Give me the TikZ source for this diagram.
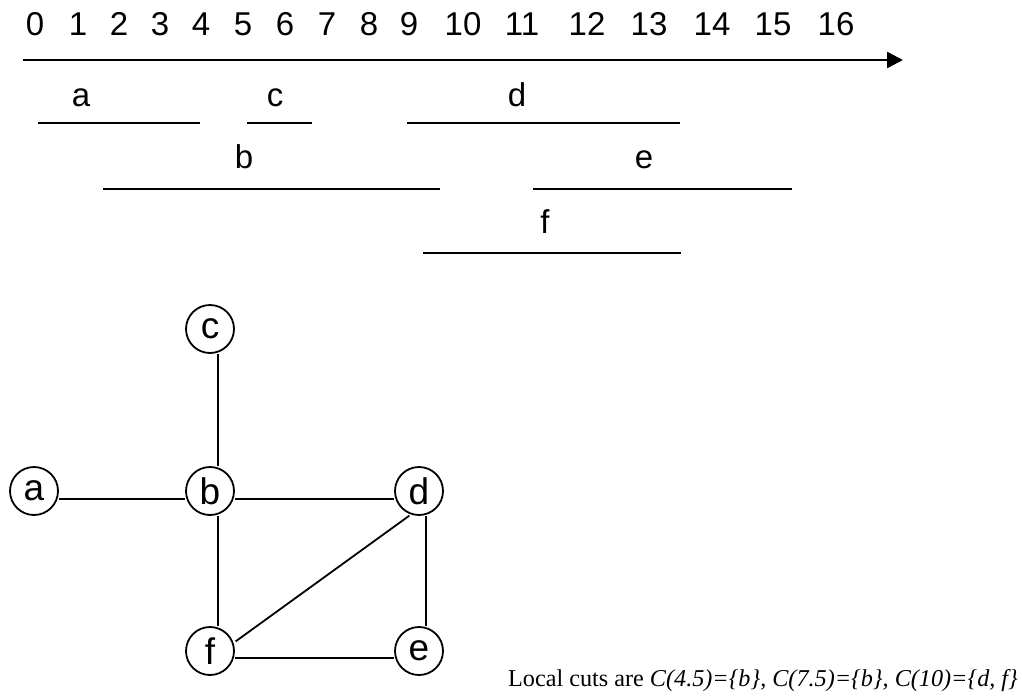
\documentclass[tikz,border=0pt]{standalone}
\usepackage{fontspec}
\setmainfont{Liberation Sans}
\newfontfamily\cutfont{Liberation Serif}
\usetikzlibrary{arrows.meta}

\begin{document}
\begin{tikzpicture}[x=1pt, y=-1pt, >={Triangle[length=16pt, width=16pt]},
    vertex/.style={draw, circle, line width=1.8pt, minimum size=48pt, inner sep=0pt, font=\fontsize{37}{37}\selectfont},
    edge/.style={line width=1.8pt},
    interval/.style={line width=2.4pt},
    lbl/.style={anchor=base, inner sep=0pt, font=\fontsize{33}{33}\selectfont}]
    \useasboundingbox (0,0) rectangle (1022,696);
    % Time axis
    \draw[->, line width=2.4pt] (23,60) -- (903,60);
    \foreach \t/\x in {0/35, 1/78, 2/119, 3/160, 4/201, 5/243, 6/285, 7/327, 8/369, 9/409,
        10/463, 11/522, 12/587, 13/649, 14/712, 15/773, 16/836}
        \node[lbl] (t\t) at (\x,35) {\t};
    % Intervals
    \draw[interval] (38,123) -- (200,123);
    \node[lbl] (la) at (81,106) {a};
    \draw[interval] (247,123) -- (312,123);
    \node[lbl] (lc) at (275,106) {c};
    \draw[interval] (407,123) -- (680,123);
    \node[lbl] (ld) at (517,106) {d};
    \draw[interval] (103,189) -- (440,189);
    \node[lbl] (lb) at (244,168) {b};
    \draw[interval] (533,189) -- (792,189);
    \node[lbl] (le) at (644,168) {e};
    \draw[interval] (423,253) -- (681,253);
    \node[lbl] (lf) at (545,233) {f};
    % Interval graph
    \node[vertex] (c) at (210,329) {c};
    \node[vertex] (a) at (34,491) {a};
    \node[vertex] (b) at (210,491) {b};
    \node[vertex] (d) at (419,491) {d};
    \node[vertex] (f) at (210,651) {f};
    \node[vertex] (e) at (419,651) {e};
    \draw[edge] ([xshift=8]c.south) -- ([xshift=8]b.north);
    \draw[edge] ([yshift=-8]a.east) -- ([yshift=-8]b.west);
    \draw[edge] ([yshift=-8]b.east) -- ([yshift=-8]d.west);
    \draw[edge] ([xshift=8]b.south) -- ([xshift=8]f.north);
    \draw[edge] ([xshift=7]d.south) -- ([xshift=7]e.north);
    \draw[edge] ([yshift=-7]f.east) -- ([yshift=-7]e.west);
    \draw[edge] ([xshift=8, yshift=-8]f.45) -- ([xshift=8, yshift=-7]d.225);
    % Local cuts
    \node[anchor=base west, inner sep=0pt, font=\cutfont\fontsize{24.2}{24.2}\selectfont] (cuts) at (508,686)
        {Local cuts are \textit{C(4.5)=\{b\}, C(7.5)=\{b\}, C(10)=\{d, f\}}};
\end{tikzpicture}
\end{document}
